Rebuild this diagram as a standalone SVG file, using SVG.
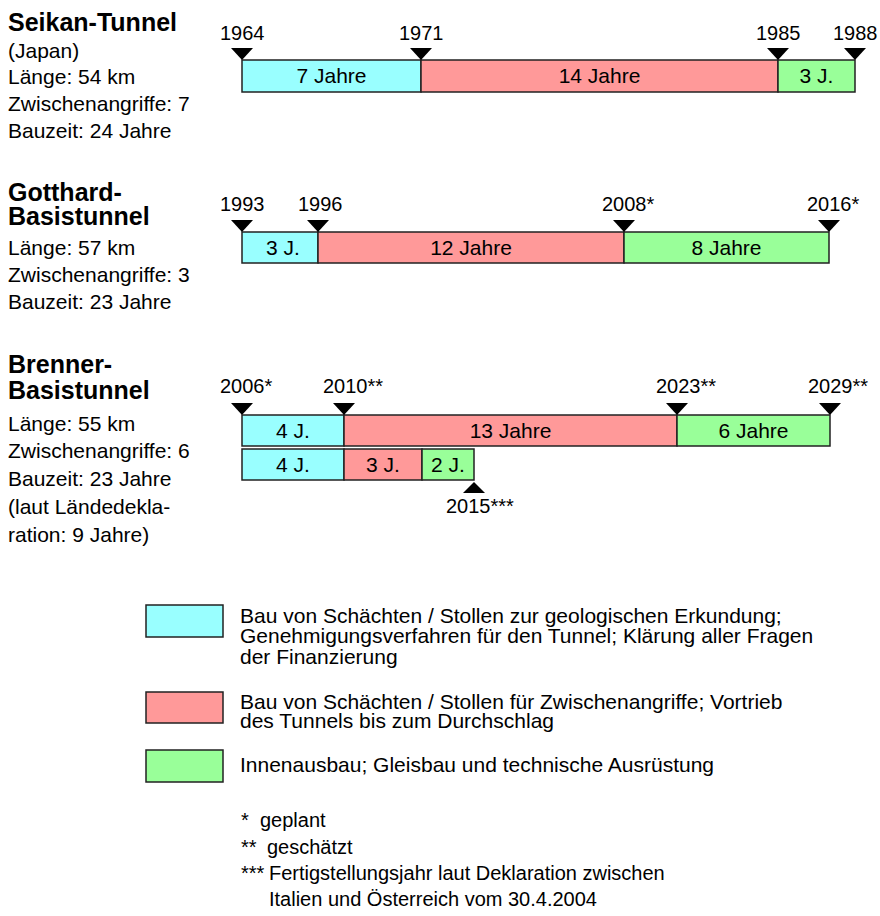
<svg xmlns="http://www.w3.org/2000/svg" width="880" height="916" viewBox="0 0 880 916">
<style>
text{font-family:"Liberation Sans",Arial,sans-serif;fill:#000}
.t{font-size:25px;font-weight:bold}
.i{font-size:21px}
.y{font-size:20px}
.l{font-size:21px;text-anchor:middle}
.g{font-size:21px}
.f{font-size:20px}
.c{fill:#99FFFF;stroke:#222;stroke-width:1.5}
.r{fill:#FF9999;stroke:#222;stroke-width:1.5}
.n{fill:#99FF99;stroke:#222;stroke-width:1.5}
.tri{fill:#000}
</style>
<defs>
<path id="td" d="M-11,-12 L11,-12 L0,0 Z"/>
<path id="tu" d="M-11,11 L11,11 L0,0 Z"/>
</defs>

<g id="seikan">
<text class="t" x="8" y="31">Seikan-Tunnel</text>
<text class="i" x="8" y="58">(Japan)</text>
<text class="i" x="8" y="84">Länge: 54 km</text>
<text class="i" x="8" y="111">Zwischenangriffe: 7</text>
<text class="i" x="8" y="138">Bauzeit: 24 Jahre</text>
<rect class="c" x="242" y="60" width="179" height="32"/>
<rect class="r" x="421" y="60" width="357" height="32"/>
<rect class="n" x="778" y="60" width="77" height="32"/>
<text class="l" x="331.5" y="83">7 Jahre</text>
<text class="l" x="599.5" y="83">14 Jahre</text>
<text class="l" x="816.5" y="83">3 J.</text>
<use href="#td" class="tri" x="242" y="60"/>
<use href="#td" class="tri" x="421" y="60"/>
<use href="#td" class="tri" x="778" y="60"/>
<use href="#td" class="tri" x="855" y="60"/>
<text class="y" x="220" y="40">1964</text>
<text class="y" x="399" y="40">1971</text>
<text class="y" x="756" y="40">1985</text>
<text class="y" x="833" y="40">1988</text>
</g>

<g id="gotthard">
<text class="t" x="8" y="201">Gotthard-</text>
<text class="t" x="8" y="225">Basistunnel</text>
<text class="i" x="8" y="255">Länge: 57 km</text>
<text class="i" x="8" y="282">Zwischenangriffe: 3</text>
<text class="i" x="8" y="309">Bauzeit: 23 Jahre</text>
<rect class="c" x="242" y="232" width="76" height="31"/>
<rect class="r" x="318" y="232" width="306" height="31"/>
<rect class="n" x="624" y="232" width="205" height="31"/>
<text class="l" x="283" y="255">3 J.</text>
<text class="l" x="471" y="255">12 Jahre</text>
<text class="l" x="726.5" y="255">8 Jahre</text>
<use href="#td" class="tri" x="242" y="232"/>
<use href="#td" class="tri" x="318" y="232"/>
<use href="#td" class="tri" x="624" y="232"/>
<use href="#td" class="tri" x="829" y="232"/>
<text class="y" x="220" y="211">1993</text>
<text class="y" x="298" y="211">1996</text>
<text class="y" x="602" y="211">2008*</text>
<text class="y" x="807" y="211">2016*</text>
</g>

<g id="brenner">
<text class="t" x="8" y="373">Brenner-</text>
<text class="t" x="8" y="399">Basistunnel</text>
<text class="i" x="8" y="431">Länge: 55 km</text>
<text class="i" x="8" y="458">Zwischenangriffe: 6</text>
<text class="i" x="8" y="486">Bauzeit: 23 Jahre</text>
<text class="i" x="8" y="514">(laut Ländedekla-</text>
<text class="i" x="8" y="542">ration: 9 Jahre)</text>
<rect class="c" x="242" y="415" width="102" height="31"/>
<rect class="r" x="344" y="415" width="333" height="31"/>
<rect class="n" x="677" y="415" width="153" height="31"/>
<text class="l" x="293" y="438">4 J.</text>
<text class="l" x="510.5" y="438">13 Jahre</text>
<text class="l" x="753.5" y="438">6 Jahre</text>
<rect class="c" x="242" y="449" width="102" height="31"/>
<rect class="r" x="344" y="449" width="78" height="31"/>
<rect class="n" x="422" y="449" width="52" height="31"/>
<text class="l" x="293" y="472">4 J.</text>
<text class="l" x="383" y="472">3 J.</text>
<text class="l" x="448" y="472">2 J.</text>
<use href="#td" class="tri" x="242" y="415"/>
<use href="#td" class="tri" x="344" y="415"/>
<use href="#td" class="tri" x="677" y="415"/>
<use href="#td" class="tri" x="830" y="415"/>
<use href="#tu" class="tri" x="474" y="482"/>
<text class="y" x="220" y="393">2006*</text>
<text class="y" x="323" y="393">2010**</text>
<text class="y" x="656" y="393">2023**</text>
<text class="y" x="808" y="393">2029**</text>
<text class="y" x="446" y="513">2015***</text>
</g>

<g id="legend">
<rect class="c" x="146" y="605" width="77" height="32"/>
<text class="g" x="240" y="623">Bau von Schächten / Stollen zur geologischen Erkundung;</text>
<text class="g" x="240" y="643">Genehmigungsverfahren für den Tunnel; Klärung aller Fragen</text>
<text class="g" x="240" y="664">der Finanzierung</text>
<rect class="r" x="146" y="692" width="77" height="31"/>
<text class="g" x="240" y="709">Bau von Schächten / Stollen für Zwischenangriffe; Vortrieb</text>
<text class="g" x="240" y="728">des Tunnels bis zum Durchschlag</text>
<rect class="n" x="146" y="750" width="77" height="32"/>
<text class="g" x="240" y="772">Innenausbau; Gleisbau und technische Ausrüstung</text>
</g>

<g id="footnotes">
<text class="f" x="241" y="827">*</text>
<text class="f" x="260" y="827">geplant</text>
<text class="f" x="241" y="854">**</text>
<text class="f" x="267" y="854">geschätzt</text>
<text class="f" x="241" y="880">***</text>
<text class="f" x="269" y="880">Fertigstellungsjahr laut Deklaration zwischen</text>
<text class="f" x="269" y="906">Italien und Österreich vom 30.4.2004</text>
</g>
<g id="connectors"/>
</svg>
